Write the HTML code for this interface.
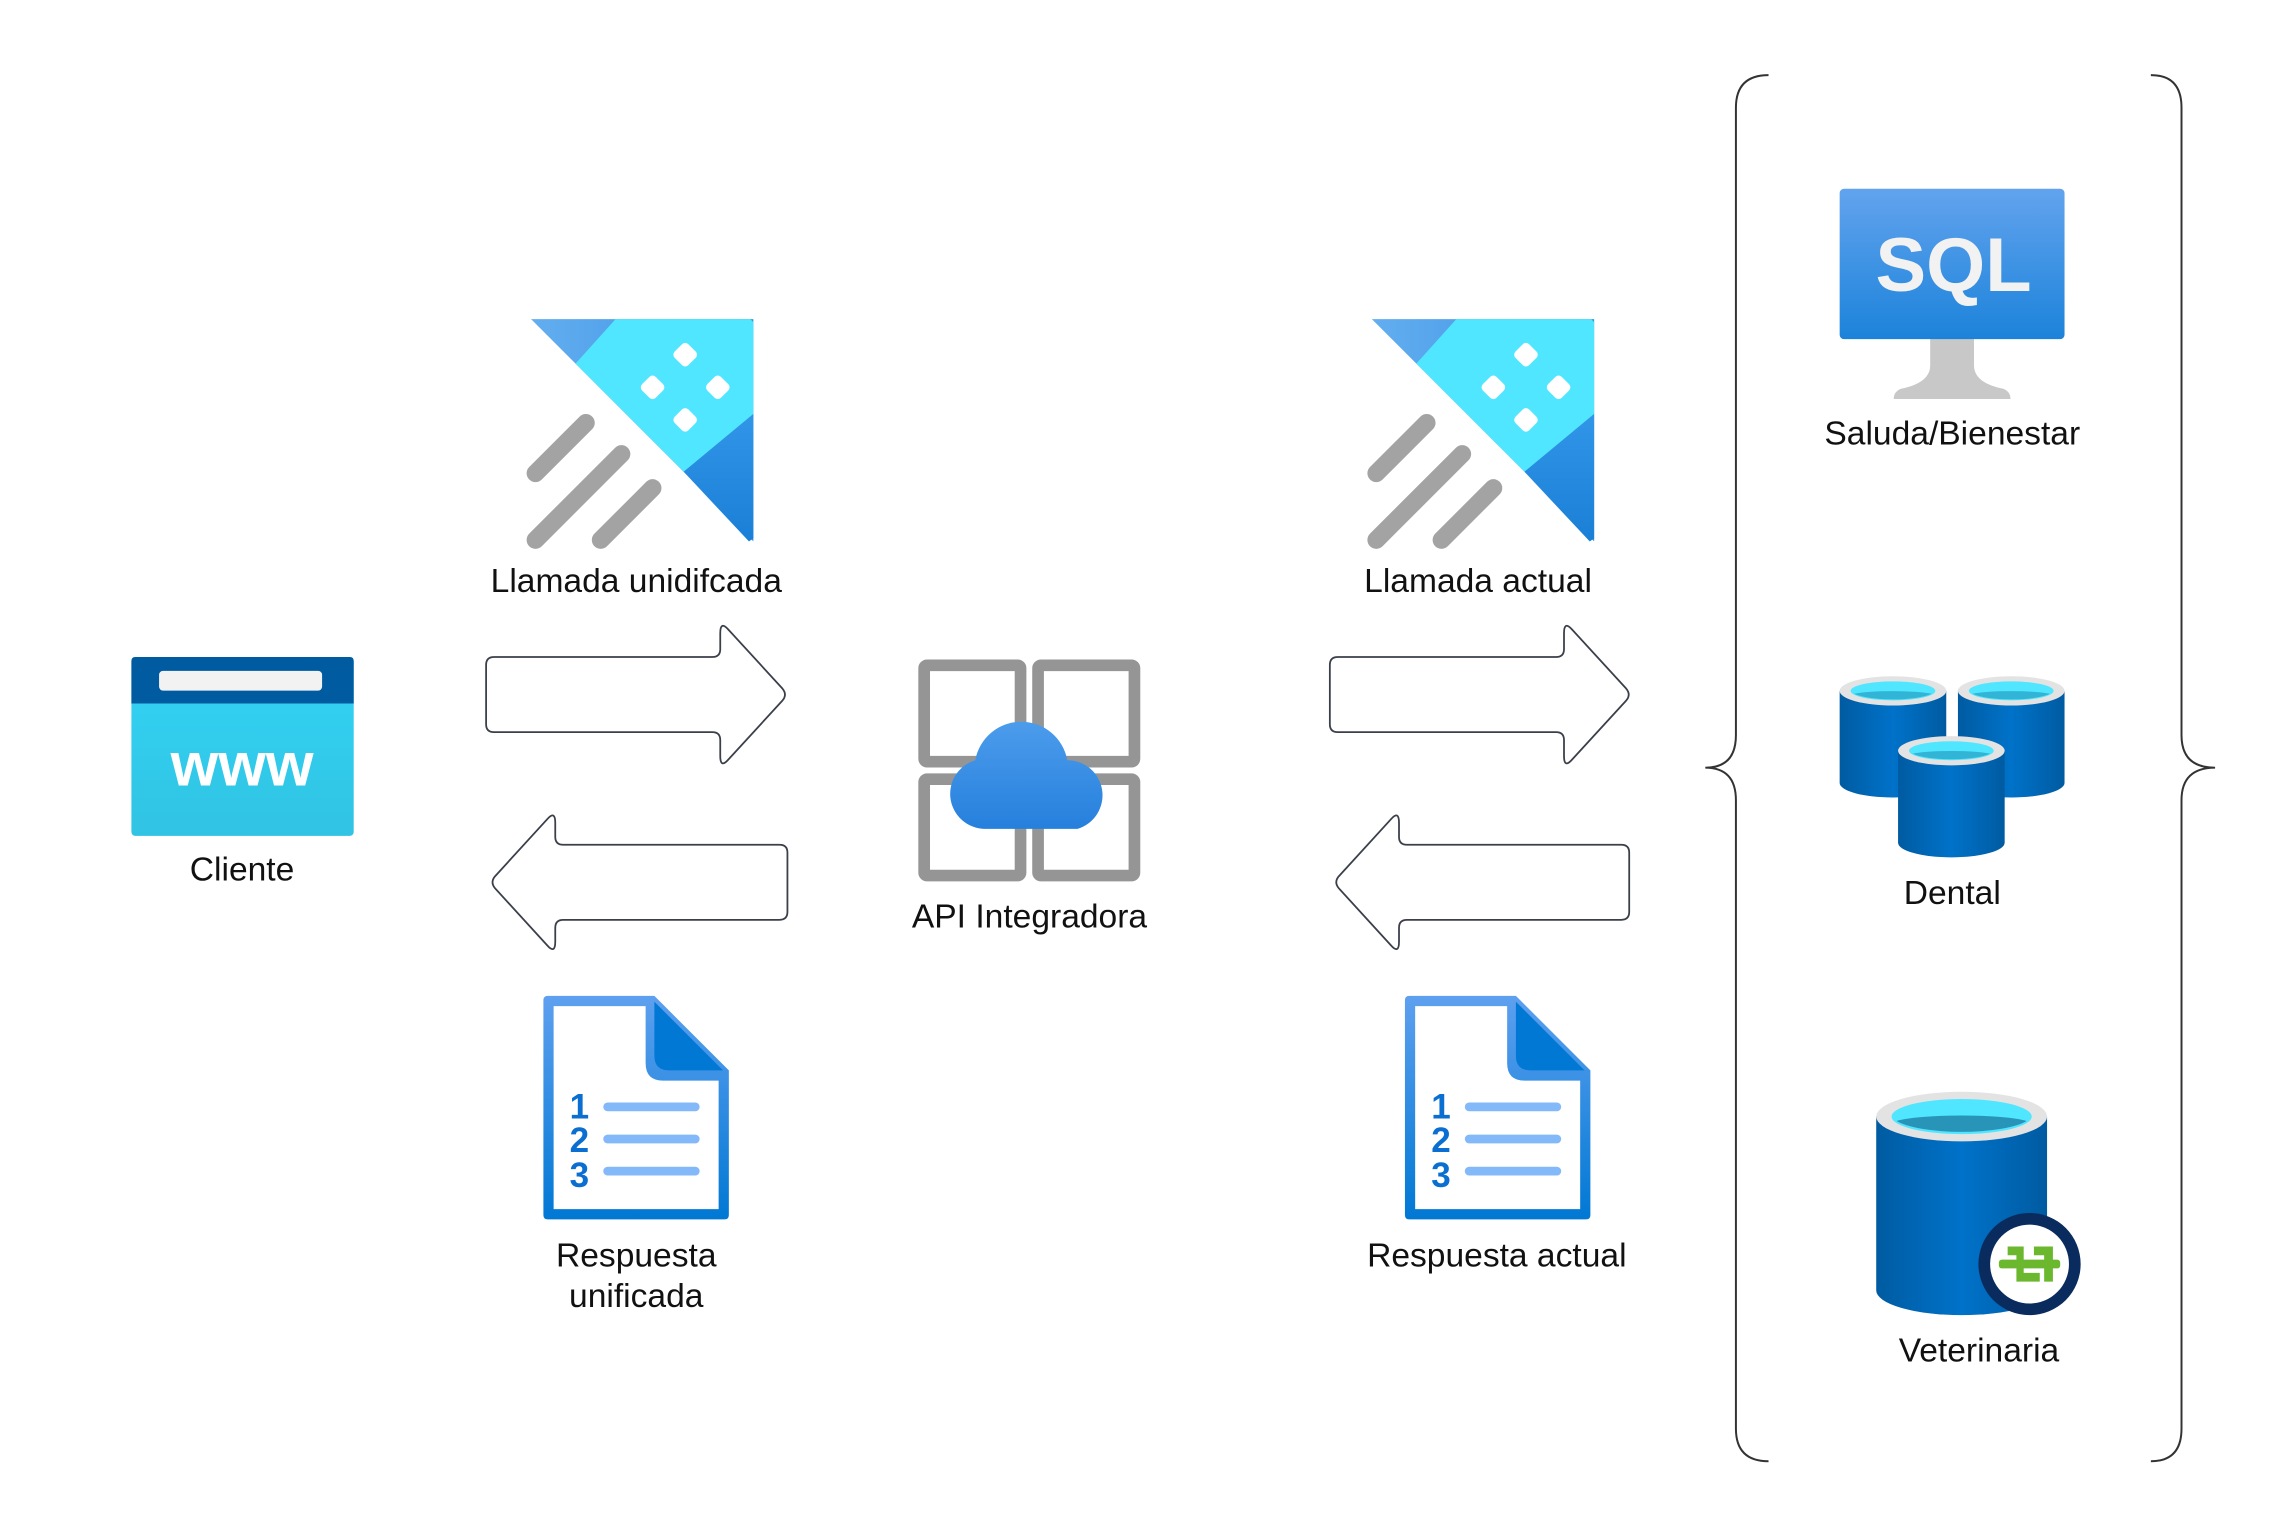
<!DOCTYPE html>
<html><head><meta charset="utf-8"><style>
html,body{margin:0;padding:0;background:#fff}
svg{display:block}
text{font-family:"Liberation Sans",sans-serif;font-size:34px;fill:#111}
</style></head><body>
<svg width="2291" height="1538" viewBox="0 0 2291 1538" xmlns="http://www.w3.org/2000/svg">
<defs>
<linearGradient id="gblue" x1="0" y1="0" x2="1" y2="0"><stop offset="0" stop-color="#63aef0"/><stop offset="1" stop-color="#3a8fe2"/></linearGradient>
<linearGradient id="gdark" x1="0" y1="0" x2="0" y2="1"><stop offset="0" stop-color="#3196e8"/><stop offset="1" stop-color="#1a7fd6"/></linearGradient>
<linearGradient id="gsql" x1="0" y1="0" x2="0" y2="1"><stop offset="0" stop-color="#62a3ee"/><stop offset="1" stop-color="#1c83da"/></linearGradient>
<linearGradient id="gcloud" x1="0" y1="0" x2="0" y2="1"><stop offset="0" stop-color="#4c9cec"/><stop offset="1" stop-color="#2680dc"/></linearGradient>
<linearGradient id="gcyl" x1="0" y1="0" x2="1" y2="0"><stop offset="0" stop-color="#005ba1"/><stop offset="0.5" stop-color="#0072c9"/><stop offset="1" stop-color="#005ba1"/></linearGradient>
<linearGradient id="gwww" x1="0" y1="0" x2="0" y2="1"><stop offset="0" stop-color="#32d4f5"/><stop offset="1" stop-color="#31c3e3"/></linearGradient>
<linearGradient id="gdoc" x1="0" y1="0" x2="0" y2="1"><stop offset="0" stop-color="#5ea0ef"/><stop offset="1" stop-color="#0078d4"/></linearGradient>

<g id="llamada">
<polygon points="3,0 153,0 153,150" fill="url(#gblue)"/>
<polygon points="60,0 151,0 153,2 153,64 106,103 33,30" fill="#50e6ff"/>
<polygon points="153,64 153,148 150,150 106,103" fill="url(#gdark)"/>
<g fill="#fff">
<rect x="100.5" y="17.5" width="13" height="13" rx="3" transform="rotate(45 107 24)"/>
<rect x="78.5" y="39.5" width="13" height="13" rx="3" transform="rotate(45 85 46)"/>
<rect x="122.5" y="39.5" width="13" height="13" rx="3" transform="rotate(45 129 46)"/>
<rect x="100.5" y="61.5" width="13" height="13" rx="3" transform="rotate(45 107 68)"/>
</g>
<g stroke="#a3a3a3" stroke-width="12" stroke-linecap="round">
<line x1="6" y1="104" x2="40" y2="70"/>
<line x1="6" y1="149" x2="64" y2="91"/>
<line x1="50" y1="149" x2="85" y2="114"/>
</g>
</g>

<g id="doc">
<path d="M3,0 H76 L127,51 V150 Q127,153 124,153 H3 Q0,153 0,150 V3 Q0,0 3,0 Z" fill="url(#gdoc)"/>
<path d="M7,7 H70 V46 Q70,58 82,58 H120 V146 H7 Z" fill="#fff"/>
<path d="M76,4 L123,51 H86 Q76,51 76,41 Z" fill="#0078d4"/>
<text x="18" y="84" style="font-size:24px;fill:#0a6fd0;font-weight:bold">1</text>
<text x="18" y="107" style="font-size:24px;fill:#0a6fd0;font-weight:bold">2</text>
<text x="18" y="131" style="font-size:24px;fill:#0a6fd0;font-weight:bold">3</text>
<g stroke="#83b9f9" stroke-width="6" stroke-linecap="round">
<line x1="44" y1="76" x2="104" y2="76"/>
<line x1="44" y1="98" x2="104" y2="98"/>
<line x1="44" y1="120" x2="104" y2="120"/>
</g>
</g>

<g id="cyl">
<path d="M0,11 V74 A36.5,10 0 0 0 73,74 V11 Z" fill="url(#gcyl)"/>
<ellipse cx="36.5" cy="11" rx="36.5" ry="10" fill="#e3e3e3"/>
<ellipse cx="36.5" cy="11" rx="29" ry="6.5" fill="#50e6ff"/>
<path d="M10,13 A29,6.5 0 0 0 63,13 A29,3 0 0 0 10,13 Z" fill="#32b4d6"/>
</g>
</defs>

<g transform="scale(0.988)">
<g transform="translate(133,665)">
<rect x="0" y="0" width="225" height="181" rx="4" fill="url(#gwww)"/>
<path d="M4,0 H221 Q225,0 225,4 V47 H0 V4 Q0,0 4,0 Z" fill="#005ba1"/>
<rect x="28" y="14" width="165" height="20" rx="4" fill="#f2f2f2"/>
<text x="112" y="130" text-anchor="middle" style="font-size:62px;font-weight:bold;fill:#fff">www</text>
</g>
<text x="245" y="891" text-anchor="middle">Cliente</text>

<use href="#llamada" transform="translate(533,323) scale(1.5)"/>
<text x="644" y="599" text-anchor="middle">Llamada unidifcada</text>

<use href="#llamada" transform="translate(1384,323) scale(1.5)"/>
<text x="1496" y="599" text-anchor="middle">Llamada actual</text>

<g fill="#fff" stroke="#3a3f4a" stroke-width="1.8" stroke-linejoin="round">
<path d="M500,665 H721 Q729,665 729,657 V641 Q729,628 737,637 L792,697 Q797,703 792,709 L737,769 Q729,778 729,765 V749 Q729,741 721,741 H500 Q492,741 492,733 V673 Q492,665 500,665 Z"/>
<path d="M1354,665 H1575 Q1583,665 1583,657 V641 Q1583,628 1591,637 L1646,697 Q1651,703 1646,709 L1591,769 Q1583,778 1583,765 V749 Q1583,741 1575,741 H1354 Q1346,741 1346,733 V673 Q1346,665 1354,665 Z"/>
<path d="M789,855 H570 Q562,855 562,847 V833 Q562,820 554,829 L501,887 Q496,893 501,899 L554,957 Q562,966 562,953 V939 Q562,931 570,931 H789 Q797,931 797,923 V863 Q797,855 789,855 Z"/>
<path d="M1641,855 H1424 Q1416,855 1416,847 V833 Q1416,820 1408,829 L1355,887 Q1350,893 1355,899 L1408,957 Q1416,966 1416,953 V939 Q1416,931 1424,931 H1641 Q1649,931 1649,923 V863 Q1649,855 1641,855 Z"/>
</g>

<g transform="translate(928,666) scale(1.478)">
<g fill="none" stroke="#959595" stroke-width="8">
<rect x="5" y="5" width="66" height="66" rx="2"/>
<rect x="83" y="5" width="66" height="66" rx="2"/>
<rect x="5" y="83" width="66" height="66" rx="2"/>
<rect x="83" y="83" width="66" height="66" rx="2"/>
</g>
<path d="M46,117 A24,24 0 0 1 40,70 A32,32 0 0 1 103,70 A24,24 0 0 1 110,117 Z" fill="url(#gcloud)"/>
</g>
<text x="1042" y="939" text-anchor="middle">API Integradora</text>

<use href="#doc" transform="translate(550,1008) scale(1.478)"/>
<text x="644" y="1282" text-anchor="middle">Respuesta</text>
<text x="644" y="1323" text-anchor="middle">unificada</text>
<use href="#doc" transform="translate(1422,1008) scale(1.478)"/>
<text x="1515" y="1282" text-anchor="middle">Respuesta actual</text>

<g fill="none" stroke="#333" stroke-width="2">
<path d="M1790,76 Q1757,76 1757,109 V744 Q1757,777 1726,777 Q1757,777 1757,810 V1446 Q1757,1479 1790,1479"/>
<path d="M2177,76 Q2208,76 2208,109 V744 Q2208,777 2242,777 Q2208,777 2208,810 V1446 Q2208,1479 2177,1479"/>
</g>

<g transform="translate(1862,191) scale(1.478)">
<path d="M62,102 H92 V121 Q92,133 112,137 Q117,139 117,144 H37 Q37,139 42,137 Q62,133 62,121 Z" fill="#c8c8c8"/>
<rect x="0" y="0" width="154" height="103" rx="3" fill="url(#gsql)"/>
<text x="78" y="70" text-anchor="middle" style="font-size:52px;font-weight:bold;fill:#f2f2f2">SQL</text>
</g>
<text x="1976" y="450" text-anchor="middle">Saluda/Bienestar</text>

<g transform="translate(1862,683) scale(1.478)">
<use href="#cyl" transform="translate(0,0)"/>
<use href="#cyl" transform="translate(81,0)"/>
<use href="#cyl" transform="translate(40,41)"/>
</g>
<text x="1976" y="915" text-anchor="middle">Dental</text>

<g transform="translate(1899,1105) scale(1.478)">
<path d="M0,17 V136 A58.5,17 0 0 0 117,136 V17 Z" fill="url(#gcyl)"/>
<ellipse cx="58.5" cy="17" rx="58.5" ry="17" fill="#e3e3e3"/>
<ellipse cx="58.5" cy="17" rx="48" ry="12" fill="#50e6ff"/>
<path d="M14,20 A48,12 0 0 0 103,20 A48,6 0 0 0 14,20 Z" fill="#2894b8"/>
<circle cx="105" cy="118" r="35" fill="#0a2b5e"/>
<circle cx="105" cy="118" r="27" fill="#fff"/>
<g fill="#6bb82e">
<rect x="84" y="115" width="42" height="6" rx="2"/>
<path d="M90,106 H101 V124 H112 V130 H96 V112 H90 Z"/>
<path d="M108,106 H121 V130 H115 V112 H108 Z"/>
</g>
</g>
<text x="2003" y="1378" text-anchor="middle">Veterinaria</text>
</g>
</svg>
</body></html>
